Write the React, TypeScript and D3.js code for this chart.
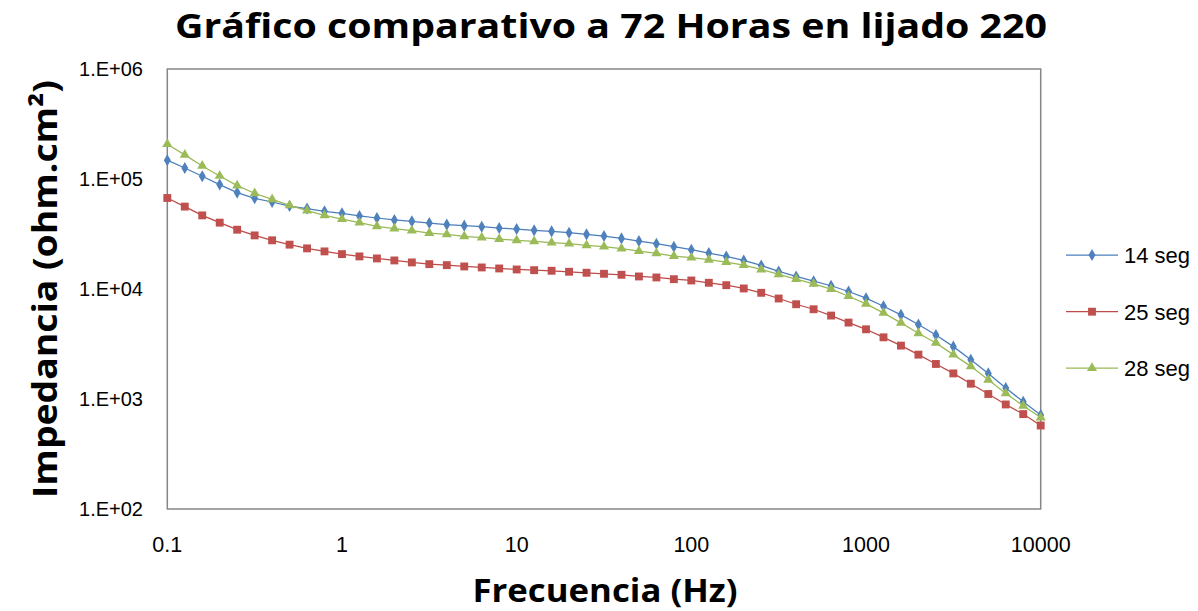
import React from "react";
import * as d3 from "d3";

const freq = [0.1, 0.1259, 0.1585, 0.1995, 0.2512, 0.3162, 0.3981, 0.5012, 0.631, 0.7943,
  1, 1.259, 1.585, 1.995, 2.512, 3.162, 3.981, 5.012, 6.31, 7.943,
  10, 12.59, 15.85, 19.95, 25.12, 31.62, 39.81, 50.12, 63.1, 79.43,
  100, 125.9, 158.5, 199.5, 251.2, 316.2, 398.1, 501.2, 631, 794.3,
  1000, 1259, 1585, 1995, 2512, 3162, 3981, 5012, 6310, 7943, 10000];

const seg14 = [148300, 126000, 105900, 89000, 75200, 66800, 61800, 56800, 53800, 50800,
  48700, 46100, 44200, 42400, 41200, 39800, 38500, 37660, 36870, 35810,
  35070, 34120, 33410, 32520, 31380, 30280, 28850, 27260, 25810, 24240,
  22770, 21200, 19780, 18180, 16370, 14440, 13000, 11780, 10700, 9490,
  8250, 6970, 5820, 4750, 3825, 2993, 2278, 1709, 1258, 944, 714];

const seg25 = [67200, 56100, 46700, 40100, 34600, 30700, 27700, 25300, 23400, 21970,
  20760, 19780, 18960, 18180, 17440, 16830, 16480, 16030, 15700, 15370,
  15050, 14830, 14650, 14340, 14050, 13750, 13470, 13000, 12730, 12280,
  11950, 11390, 10830, 10110, 9235, 8195, 7270, 6545, 5735, 4952,
  4302, 3637, 3057, 2531, 2082, 1709, 1377, 1110, 892, 729, 574];

const seg28 = [207300, 165600, 131500, 106600, 87150, 74170, 65400, 57660, 51590, 46720,
  43250, 40110, 37110, 35360, 33910, 32250, 31380, 30090, 29270, 28430,
  27660, 27090, 26360, 25810, 24910, 24240, 23250, 22110, 21060, 19910,
  19250, 18450, 17550, 16480, 15050, 13560, 12280, 11150, 9960, 8600,
  7330, 6070, 4920, 3956, 3234, 2531, 1980, 1497, 1124, 868, 679];

const xTicks = [0.1, 1, 10, 100, 1000, 10000];
const xTickLabels = ["0.1", "1", "10", "100", "1000", "10000"];
const yTicks = [100, 1000, 10000, 100000, 1000000];
const yTickLabels = ["1.E+02", "1.E+03", "1.E+04", "1.E+05", "1.E+06"];

const seriesNames = ["14 seg", "25 seg", "28 seg"];
const seriesData = [seg14, seg25, seg28];
const lineColors = ["#4A7EBB", "#BE4B48", "#98B954"];
const markerColors = ["#4F81BD", "#C0504D", "#9BBB59"];
const markerShapes = [d3.symbolDiamond, d3.symbolSquare, d3.symbolTriangle];
const markerSizes = [42, 62, 44];

const W = 1198, H = 611;
const plot = { left: 167.3, right: 1040.7, top: 69, bottom: 509 };

export default function App() {
  const x = d3.scaleLog().domain([0.1, 10000]).range([plot.left, plot.right]);
  const y = d3.scaleLog().domain([100, 1000000]).range([plot.bottom, plot.top]);
  const line = d3.line<number>()
    .x((_, i) => x(freq[i]))
    .y((d) => y(d));
  const sym = (k: number) => d3.symbol().type(markerShapes[k]).size(markerSizes[k])()!;
  const legendY = [255, 311.7, 368];
  const font = "'Liberation Sans', Arial, sans-serif";
  const boldFont = "'Open Sans', 'Noto Sans', sans-serif";

  return (
    <svg width={W} height={H} style={{ position: "fixed", left: 0, top: 0, background: "#fff" }}>
      <rect x={0} y={0} width={W} height={H} fill="#fff" />
      <text x={611} y={37.5} textAnchor="middle" fontFamily={boldFont} fontWeight="bold"
        fontSize={34} textLength={872} lengthAdjust="spacingAndGlyphs" fill="#000">
        Gráfico comparativo a 72 Horas en lijado 220
      </text>
      <rect x={plot.left} y={plot.top} width={plot.right - plot.left} height={plot.bottom - plot.top}
        fill="none" stroke="#868686" strokeWidth={1.5} />
      {yTicks.map((t, i) => (
        <text key={"yt" + i} x={143} y={y(t)} dy="0.35em" textAnchor="end" fontFamily={font}
          fontSize={20} fill="#000">{yTickLabels[i]}</text>
      ))}
      {xTicks.map((t, i) => (
        <text key={"xt" + i} x={x(t)} y={552.3} textAnchor="middle" fontFamily={font}
          fontSize={21.5} fill="#000">{xTickLabels[i]}</text>
      ))}
      {seriesData.map((s, k) => (
        <g key={"s" + k}>
          <path d={line(s)!} fill="none" stroke={lineColors[k]} strokeWidth={1.25} />
          {s.map((v, i) => (
            <path key={i} d={sym(k)} transform={`translate(${x(freq[i])},${y(v)})`}
              fill={markerColors[k]} />
          ))}
        </g>
      ))}
      {seriesNames.map((n, k) => (
        <g key={"l" + k}>
          <line x1={1066} x2={1118} y1={legendY[k]} y2={legendY[k]} stroke={lineColors[k]} strokeWidth={1.25} />
          <path d={sym(k)} transform={`translate(1092,${legendY[k]})`} fill={markerColors[k]} />
          <text x={1124} y={legendY[k]} dy="0.36em" fontFamily={font} fontSize={22} fill="#000">{n}</text>
        </g>
      ))}
      <text transform={`translate(56.7,289) rotate(-90)`} textAnchor="middle" fontFamily={boldFont}
        fontWeight="bold" fontSize={34} textLength={418} lengthAdjust="spacingAndGlyphs" fill="#000">
        Impedancia (ohm.cm²)
      </text>
      <text x={605} y={602} textAnchor="middle" fontFamily={boldFont} fontWeight="bold"
        fontSize={33} textLength={265} lengthAdjust="spacingAndGlyphs" fill="#000">
        Frecuencia (Hz)
      </text>
    </svg>
  );
}
